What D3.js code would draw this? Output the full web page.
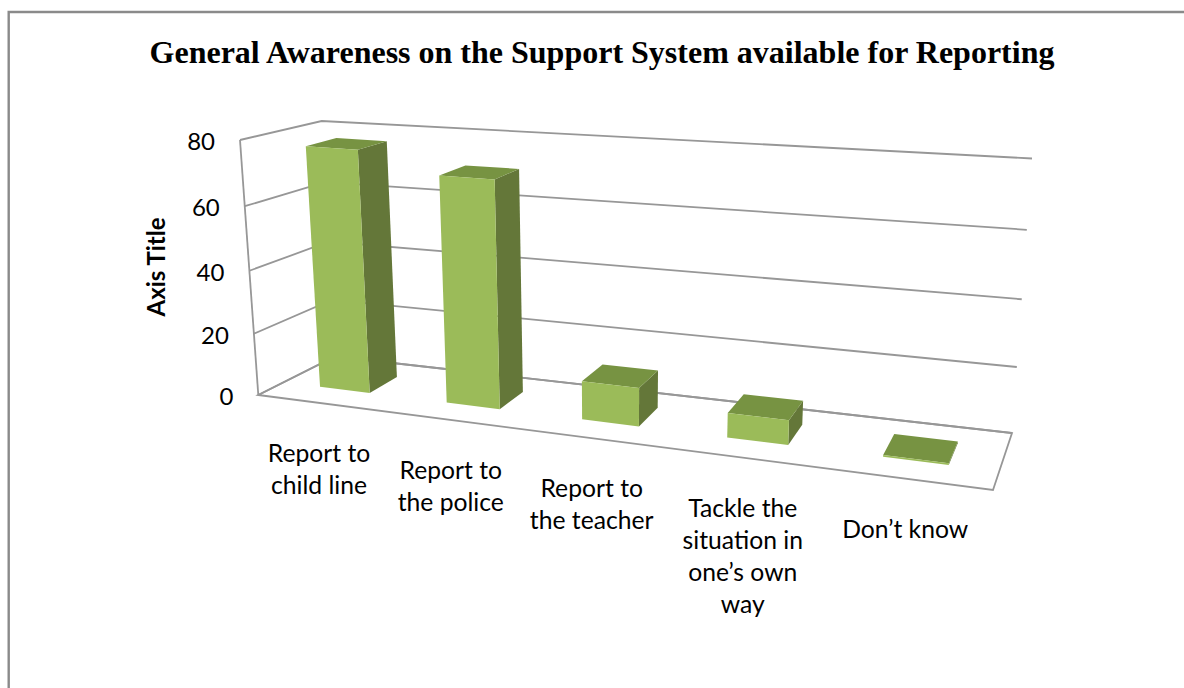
<!DOCTYPE html>
<html>
<head>
<meta charset="utf-8">
<script src="https://cdnjs.cloudflare.com/ajax/libs/d3/7.8.5/d3.min.js"></script>
<style>
  html, body { margin: 0; padding: 0; background: #fff; }
  svg { display: block; }
</style>
</head>
<body>
<svg id="chart" width="1184" height="688"></svg>
<script>
// Chart content
const chartTitle = "General Awareness on the Support System available for Reporting";
const valueAxisTitle = "Axis Title";
const categories = ["Report to child line", "Report to the police", "Report to the teacher", "Tackle the situation in one\u2019s own way", "Don\u2019t know"];
const categoryLines = [
  ["Report to", "child line"],
  ["Report to", "the police"],
  ["Report to", "the teacher"],
  ["Tackle the", "situation in", "one\u2019s own", "way"],
  ["Don\u2019t know"]
];
const values = [77, 71, 12, 7.5, 0.5];
const valueTicks = [0, 20, 40, 60, 80];

// Corners of the 3D plot box on screen: front/back, left/right, floor/top
const box = {
  floorFrontLeft: [258.3, 395], floorFrontRight: [993, 490],
  floorBackLeft: [335, 356.5], floorBackRight: [1012, 433],
  topFrontLeft: [240, 140], topFrontRight: [1012, 196],
  topBackLeft: [321.7, 121], topBackRight: [1032, 158.5]
};

// Perspective foreshortening along the width and the height of the box
const foreshorten = p => t => t * (1 + p) / (1 + p * t);
const widthWarp = foreshorten(-0.16);
const heightWarp = foreshorten(-0.05);

const x = d3.scaleBand().domain(categories).range([0, 1]).paddingInner(0.6).paddingOuter(0.3);
const y = d3.scaleLinear().domain([0, 80]).range([0, 1]);
const barDepth = [0.33, 0.72];

const lerp = (a, b, t) => [a[0] + (b[0] - a[0]) * t, a[1] + (b[1] - a[1]) * t];

// Maps width, depth and height (each 0 to 1) to the screen
function project(t, w, h) {
  const u = widthWarp(t), v = heightWarp(h);
  const floor = lerp(lerp(box.floorFrontLeft, box.floorFrontRight, u), lerp(box.floorBackLeft, box.floorBackRight, u), w);
  const top = lerp(lerp(box.topFrontLeft, box.topFrontRight, u), lerp(box.topBackLeft, box.topBackRight, u), w);
  return lerp(floor, top, v);
}

const svg = d3.select("#chart");
const line = d3.line();
const closed = pts => line(pts) + "Z";

// Outer chart border
svg.append("path")
  .attr("d", "M8.7,700V12H1190")
  .attr("fill", "none").attr("stroke", "#8a8a8a").attr("stroke-width", 2.4);

svg.append("text")
  .attr("x", 602).attr("y", 63)
  .attr("text-anchor", "middle")
  .attr("font-family", "'Liberation Serif', serif")
  .attr("font-weight", "bold").attr("font-size", 32)
  .attr("fill", "#000")
  .text(chartTitle);

// Walls, gridlines and floor
const wallColor = "#979797";
const walls = svg.append("g").attr("fill", "none").attr("stroke", wallColor).attr("stroke-width", 1.8);
valueTicks.forEach(tick => {
  const h = y(tick);
  walls.append("path").attr("d", line([project(0, 0, h), project(0, 1, h), project(1, 1, h)]));
});
walls.append("path").attr("d", line([project(0, 0, 1), project(0, 0, 0)]));
walls.append("path").attr("d", closed([project(0, 0, 0), project(1, 0, 0), project(1, 1, 0), project(0, 1, 0)]));

// Bars, each one a front, a right side and a top face
const bars = svg.append("g").selectAll("g").data(categories).join("g");
const faces = (name, i) => {
  const t0 = x(name), t1 = t0 + x.bandwidth();
  const [w0, w1] = barDepth, h = y(values[i]);
  return [
    { fill: "#647739", pts: [project(t1, w0, 0), project(t1, w1, 0), project(t1, w1, h), project(t1, w0, h)] },
    { fill: "#779342", pts: [project(t0, w0, h), project(t1, w0, h), project(t1, w1, h), project(t0, w1, h)] },
    { fill: "#9bbb59", pts: [project(t0, w0, 0), project(t1, w0, 0), project(t1, w0, h), project(t0, w0, h)] }
  ];
};
bars.selectAll("path").data(faces).join("path")
  .attr("d", d => closed(d.pts))
  .attr("fill", d => d.fill);

// Value axis labels
const labelFont = "Lato, 'Open Sans', sans-serif";
svg.append("g").selectAll("text").data(valueTicks).join("text")
  .attr("x", d => project(0, 0, y(d))[0] - 25)
  .attr("y", d => project(0, 0, y(d))[1] + 10)
  .attr("text-anchor", "end")
  .attr("font-family", labelFont).attr("font-size", 24)
  .attr("fill", "#000")
  .text(d => d);

const axisTitleY = 267;
svg.append("text")
  .attr("transform", `translate(165,${axisTitleY}) rotate(-90)`)
  .attr("text-anchor", "middle")
  .attr("font-family", labelFont).attr("font-weight", "bold").attr("font-size", 24)
  .attr("fill", "#000")
  .text(valueAxisTitle);

// Category labels, hung below the front edge of the floor
const lineHeight = 32;
const catLabels = svg.append("g").selectAll("text").data(categories).join("text")
  .attr("text-anchor", "middle")
  .attr("font-family", labelFont).attr("font-size", 24.7)
  .attr("fill", "#000");
catLabels.each(function (name, i) {
  const anchor = project(x(name) + x.bandwidth() / 2, 0, 0);
  d3.select(this).selectAll("tspan").data(categoryLines[i]).join("tspan")
    .attr("x", anchor[0] - 2)
    .attr("y", (d, k) => anchor[1] + 58.6 + k * lineHeight)
    .text(d => d);
});
</script>
</body>
</html>
